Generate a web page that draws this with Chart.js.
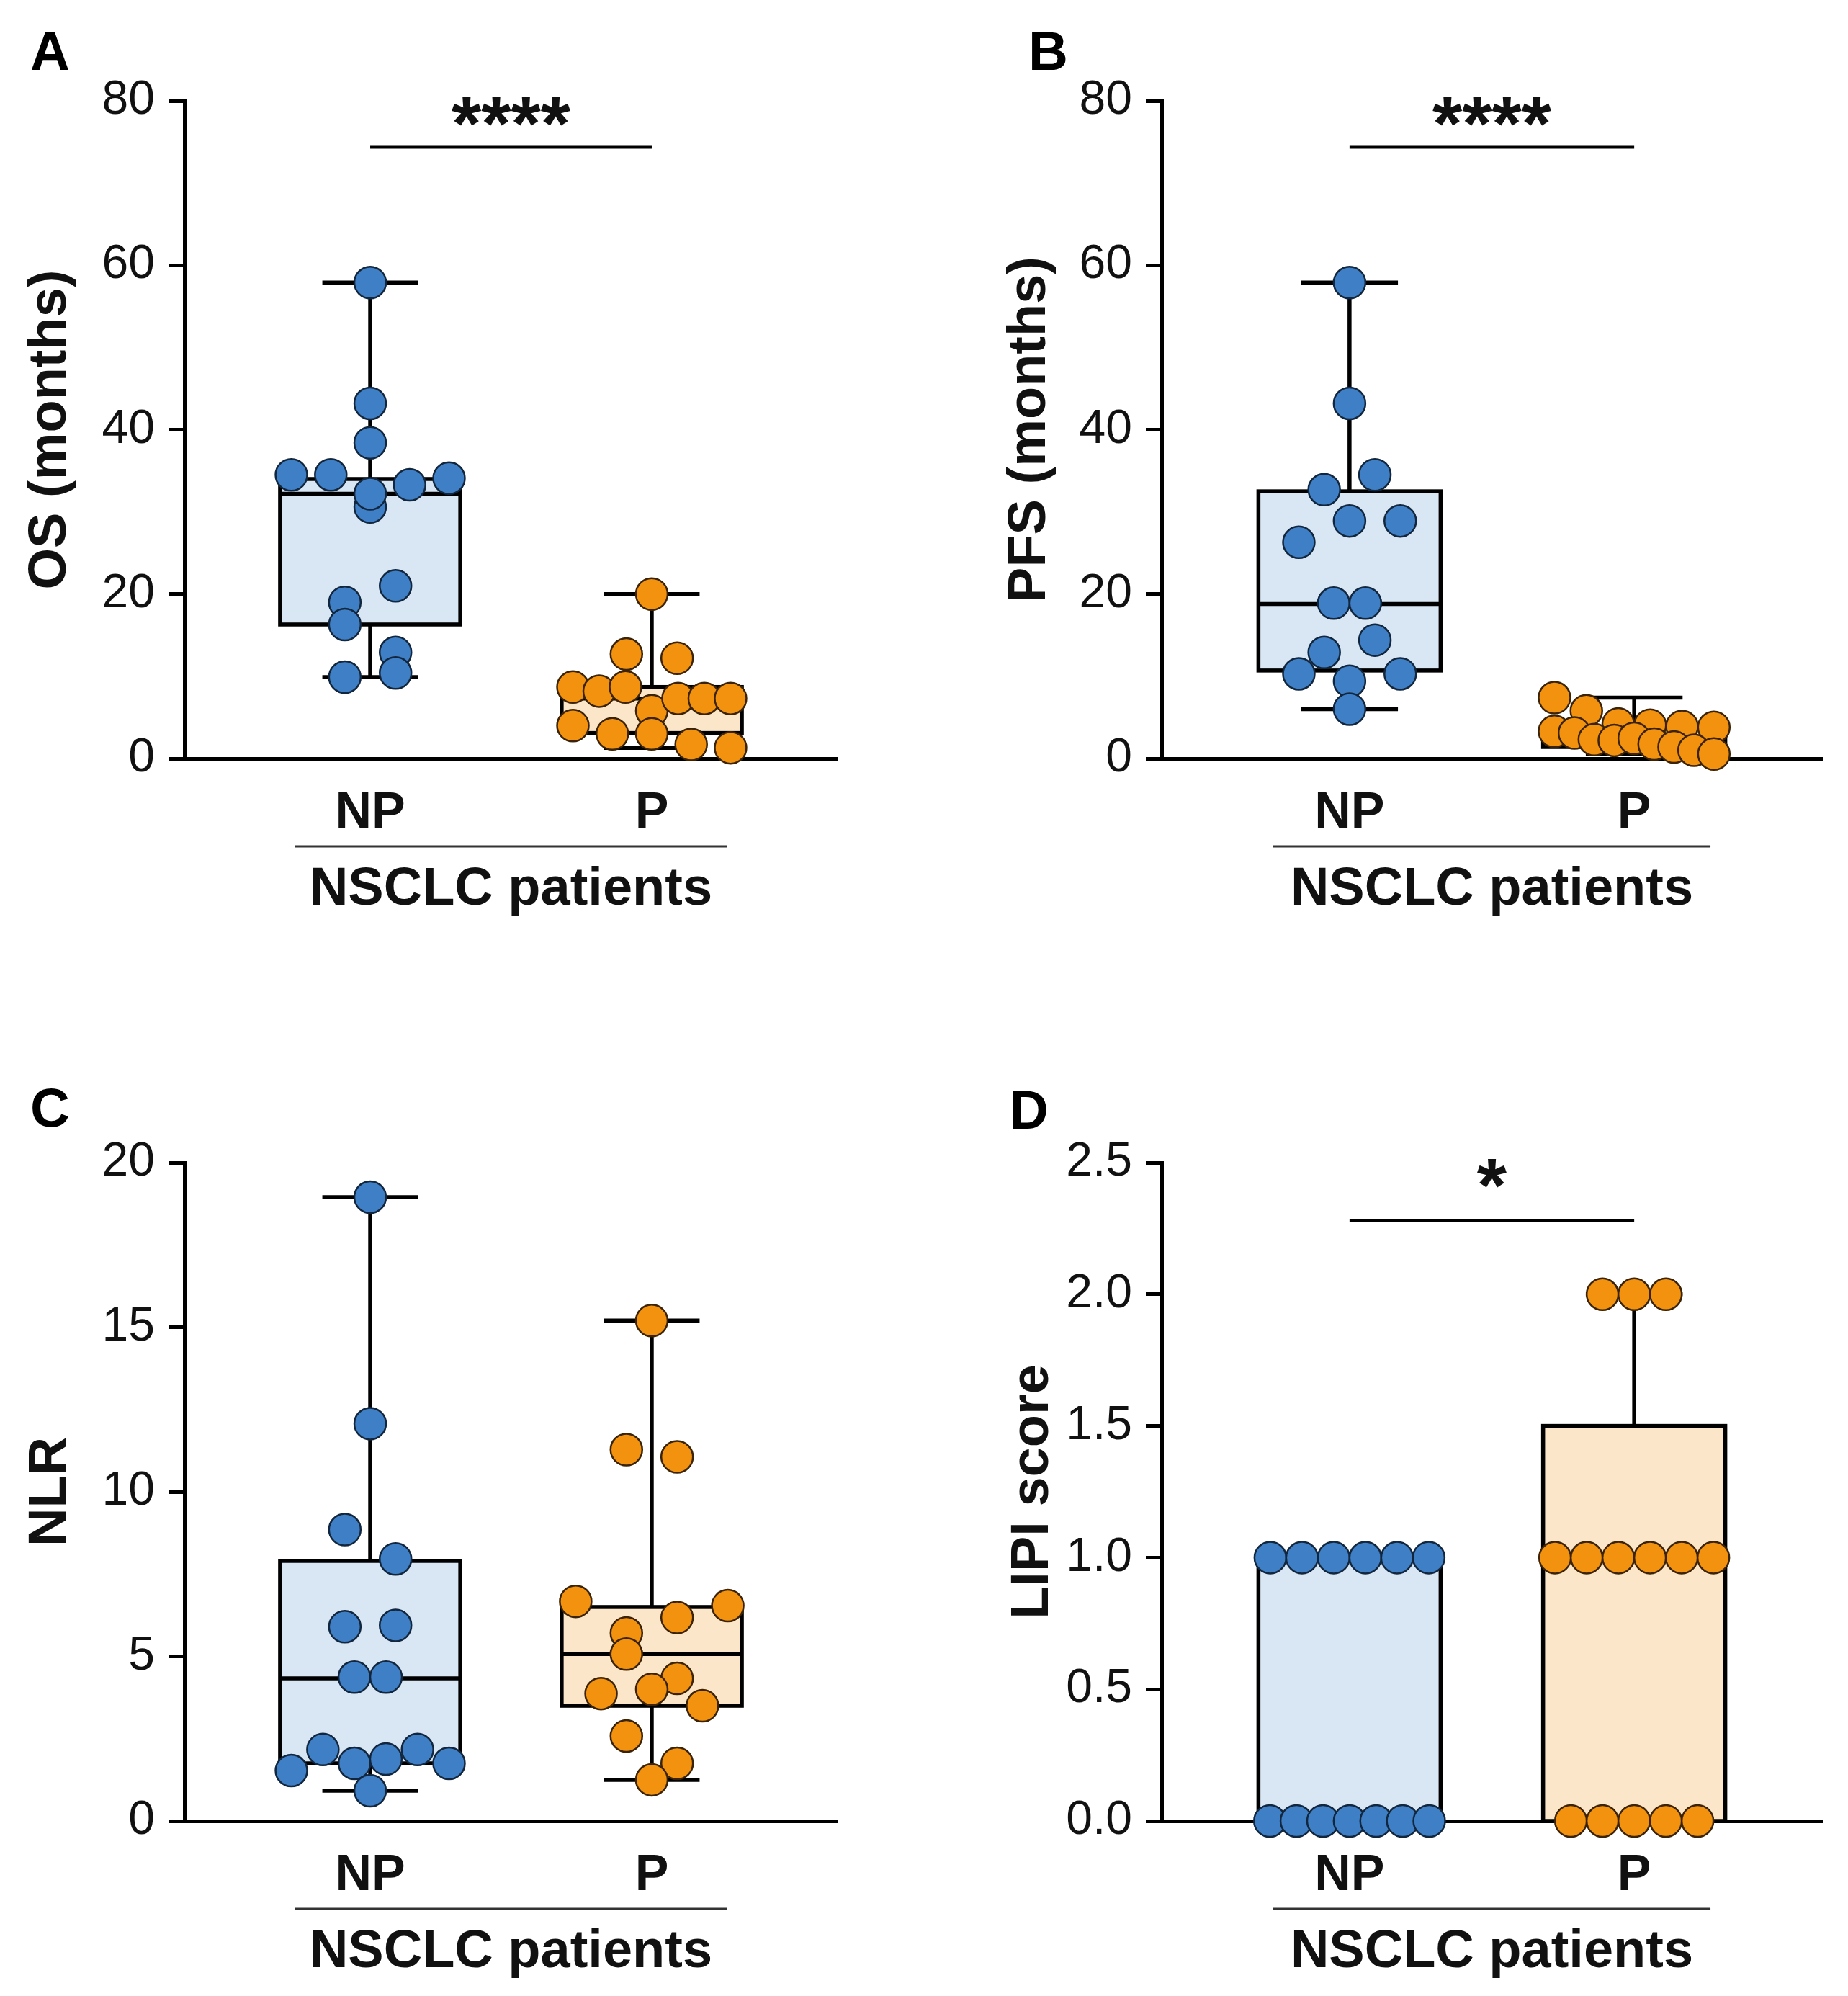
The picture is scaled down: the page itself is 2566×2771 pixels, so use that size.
<!DOCTYPE html>
<html>
<head>
<meta charset="utf-8">
<script src="https://cdn.jsdelivr.net/npm/chart.js@4.4.1/dist/chart.umd.min.js"></script>
<style>
  html, body { margin: 0; background: #fff; }
  #fig { position: relative; width: 2566px; height: 2771px; }
  .panel { position: absolute; }
</style>
</head>
<body>
<div id="fig">
  <div class="panel" style="left:0;top:0;width:1283px;height:1385px"><canvas id="A"></canvas></div>
  <div class="panel" style="left:1283px;top:0;width:1283px;height:1385px"><canvas id="B"></canvas></div>
  <div class="panel" style="left:0;top:1385px;width:1283px;height:1386px"><canvas id="C"></canvas></div>
  <div class="panel" style="left:1283px;top:1385px;width:1283px;height:1386px"><canvas id="D"></canvas></div>
</div>
<script>
'use strict';

// groups on the x axis
const groups = ['NP', 'P'];
const groupTitle = 'NSCLC patients';

// A: overall survival (months)
const osNP    = [57.9, 43.2, 38.4, 34.5, 34.5, 30.6, 32.2, 33.3, 34.1, 19.0, 21.0, 16.3, 12.9, 9.9, 10.4];
const osP     = [20.0, 12.7, 12.2, 8.7, 8.2, 8.7, 5.8, 7.3, 7.3, 7.3, 4.0, 3.0, 3.0, 1.7, 1.3];
// box stats: [min, q1, median, q3, max]
const osNPBox = [9.9, 16.3, 32.2, 34.0, 57.9];
const osPBox  = [1.3, 3.1, 7.3, 8.7, 20.0];

// B: progression-free survival (months)
const pfsNP    = [57.9, 43.2, 32.7, 34.5, 26.3, 28.9, 28.9, 18.9, 18.9, 12.9, 14.4, 10.3, 9.4, 10.3, 6.0];
const pfsP     = [7.4, 5.8, 4.2, 4.05, 3.9, 3.8, 3.3, 3.1, 2.3, 2.2, 2.45, 1.75, 1.4, 1.0, 0.55];
const pfsNPBox = [6.0, 10.7, 18.8, 32.5, 57.9];
const pfsPBox  = [0.55, 1.4, 2.6, 3.8, 7.4];

// C: NLR
const nlrNP    = [18.95, 12.07, 8.85, 7.96, 5.9, 5.94, 4.37, 4.37, 1.53, 2.17, 1.75, 1.88, 2.17, 1.75, 0.92];
const nlrP     = [15.2, 11.28, 11.06, 6.67, 5.71, 6.18, 6.54, 5.07, 4.33, 3.87, 4.0, 3.5, 2.58, 1.75, 1.25];
const nlrNPBox = [0.92, 1.75, 4.33, 7.9, 18.95];
const nlrPBox  = [1.25, 3.5, 5.07, 6.5, 15.2];

// D: LIPI score
const lipiNP    = [1, 1, 1, 1, 1, 1, 0, 0, 0, 0, 0, 0, 0];
const lipiP     = [2, 2, 2, 1, 1, 1, 1, 1, 1, 0, 0, 0, 0, 0];
const lipiNPBox = [0, 0, 0, 1, 1];
const lipiPBox  = [0, 0, 1, 1.5, 2];

// y axis ticks
const osTicks   = [0, 20, 40, 60, 80];
const nlrTicks  = [0, 5, 10, 15, 20];
const lipiTicks = [0, 0.5, 1.0, 1.5, 2.0, 2.5];

const FONT  = '"Liberation Sans", Arial, Helvetica, sans-serif';
const INK   = '#111';
const DOT_R = 22;
const STAR  = 106;
const colors = {
  NP: { dot: '#3e7fc5', edge: '#12263d', box: '#d9e6f4' },
  P:  { dot: '#f3920e', edge: '#3a2306', box: '#fce6ca' },
};

// box, whiskers, significance bar, group underline, panel letter
const boxPlugin = {
  id: 'boxes',
  beforeDatasetsDraw(chart, args, o) {
    const { ctx, scales: { x, y } } = chart;
    const seg = (x0, y0, x1, y1) => { ctx.beginPath(); ctx.moveTo(x0, y0); ctx.lineTo(x1, y1); ctx.stroke(); };
    ctx.save();
    ctx.strokeStyle = '#000';
    ctx.lineWidth = 5.5;
    o.boxes.forEach((stats, i) => {
      const [mn, q1, md, q3, mx] = stats;
      const c  = i + 1;
      const xc = x.getPixelForValue(c);
      const xl = x.getPixelForValue(c - 0.32), xr = x.getPixelForValue(c + 0.32);
      const cl = x.getPixelForValue(c - 0.17), cr = x.getPixelForValue(c + 0.17);
      if (mx > q3) { seg(xc, y.getPixelForValue(q3), xc, y.getPixelForValue(mx)); seg(cl, y.getPixelForValue(mx), cr, y.getPixelForValue(mx)); }
      if (mn < q1) { seg(xc, y.getPixelForValue(q1), xc, y.getPixelForValue(mn)); seg(cl, y.getPixelForValue(mn), cr, y.getPixelForValue(mn)); }
      const yt = y.getPixelForValue(q3), yb = y.getPixelForValue(q1);
      ctx.fillStyle = colors[groups[i]].box;
      ctx.fillRect(xl, yt, xr - xl, yb - yt);
      ctx.strokeRect(xl, yt, xr - xl, yb - yt);
      seg(xl, y.getPixelForValue(md), xr, y.getPixelForValue(md));
    });
    ctx.restore();
  },
  afterDraw(chart, args, o) {
    const { ctx, chartArea, scales: { x, y } } = chart;
    ctx.save();
    ctx.fillStyle = INK;
    ctx.strokeStyle = '#000';
    if (o.sig) {
      ctx.lineWidth = 5;
      const ys = y.getPixelForValue(o.sig.line);
      ctx.beginPath();
      ctx.moveTo(x.getPixelForValue(1), ys);
      ctx.lineTo(x.getPixelForValue(2), ys);
      ctx.stroke();
      ctx.font = 'bold ' + STAR + 'px ' + FONT;
      ctx.textAlign = 'center';
      ctx.textBaseline = 'alphabetic';
      ctx.fillText(o.sig.label, x.getPixelForValue(1.5), y.getPixelForValue(o.sig.text) + 0.47 * STAR);
    }
    // line above the group title
    ctx.lineWidth = 3;
    ctx.strokeStyle = '#333';
    const yl = chartArea.bottom + 122;
    ctx.beginPath();
    ctx.moveTo(x.getPixelForValue(1.5 - 0.768), yl);
    ctx.lineTo(x.getPixelForValue(1.5 + 0.768), yl);
    ctx.stroke();
    // panel letter
    ctx.font = 'bold 76px ' + FONT;
    ctx.textAlign = 'left';
    ctx.fillStyle = '#000';
    ctx.fillText(o.letter.text, o.letter.x, o.letter.y);
    ctx.restore();
  },
};

// rows of dots, centred on the group, GraphPad style
function swarm(values, center, chart) {
  const xs = chart.scales.x, ys = chart.scales.y;
  const unit = xs.getPixelForValue(2) - xs.getPixelForValue(1);
  const d = 2 * DOT_R, maxSpan = 0.56 * unit;
  const idx = values.map((v, i) => i).sort((a, b) => values[b] - values[a]);
  const rows = [];
  idx.forEach(i => {
    const row = rows[rows.length - 1];
    if (row && ys.getPixelForValue(values[i]) - ys.getPixelForValue(values[row[0]]) < d) row.push(i);
    else rows.push([i]);
  });
  const pts = [];
  rows.forEach(row => {
    row.sort((a, b) => a - b);
    const n = row.length;
    const tied = row.every(i => values[i] === values[row[0]]);
    const step = n > 1 ? Math.min(tied ? d : 1.6 * d, maxSpan / (n - 1)) : 0;
    row.forEach((i, k) => { pts[i] = { x: center + (k - (n - 1) / 2) * step / unit, y: values[i] }; });
  });
  return pts;
}

function makePanel(p) {
  const canvas = document.getElementById(p.id);
  const box = canvas.parentElement.getBoundingClientRect();
  const a = p.area;
  const datasets = p.values.map((vals, i) => ({
    data: vals.map(v => ({ x: i + 1, y: v })),
    pointRadius: DOT_R,
    pointBorderWidth: 2.5,
    pointBackgroundColor: colors[groups[i]].dot,
    pointBorderColor: colors[groups[i]].edge,
    showLine: false,
    clip: false,
  }));

  const chart = new Chart(canvas, {
    type: 'scatter',
    data: { datasets },
    plugins: [boxPlugin],
    options: {
      responsive: true,
      maintainAspectRatio: false,
      animation: false,
      events: [],
      layout: { padding: { left: 0, top: a.t, right: box.width - a.r, bottom: box.height - a.b - 230 } },
      plugins: {
        legend: { display: false },
        tooltip: { enabled: false },
        boxes: { boxes: p.boxes, sig: p.sig, letter: p.letter },
      },
      scales: {
        x: {
          type: 'linear',
          min: 0.34,
          max: 2.66,
          afterBuildTicks: s => { s.ticks = groups.map((g, i) => ({ value: i + 1 })); },
          afterFit: s => { s.height = 230; },
          grid: { display: false, drawTicks: false },
          border: { display: true, color: '#000', width: 5 },
          ticks: {
            autoSkip: false,
            maxRotation: 0,
            padding: 35,
            color: INK,
            font: { family: FONT, size: 70, weight: 'bold' },
            callback: v => groups[v - 1],
          },
          title: {
            display: true,
            text: groupTitle,
            color: INK,
            font: { family: FONT, size: 74, weight: 'bold' },
            padding: { top: 0, bottom: 3 },
          },
        },
        y: {
          min: p.ticks[0],
          max: p.ticks[p.ticks.length - 1],
          afterBuildTicks: s => { s.ticks = p.ticks.map(v => ({ value: v })); },
          afterFit: s => { s.width = a.l; },
          grid: { drawOnChartArea: false, drawTicks: true, tickLength: 22, lineWidth: 5, color: '#000' },
          border: { display: true, color: '#000', width: 5 },
          ticks: {
            autoSkip: false,
            padding: 19,
            color: INK,
            font: { family: FONT, size: 66 },
            callback: v => v.toFixed(p.decimals),
          },
          title: {
            display: true,
            text: p.title,
            color: INK,
            font: { family: FONT, size: 74, weight: 'bold' },
            padding: { top: p.titleX - 44.4, bottom: 0 },
          },
        },
      },
    },
  });

  p.values.forEach((vals, i) => { chart.data.datasets[i].data = swarm(vals, i + 1, chart); });
  chart.update('none');
  return chart;
}

makePanel({
  id: 'A', area: { l: 256, t: 140, r: 1163, b: 1053 },
  values: [osNP, osP], boxes: [osNPBox, osPBox], ticks: osTicks, decimals: 0,
  title: 'OS (months)', titleX: 71,
  sig: { line: 74.4, text: 78.4, label: '****' },
  letter: { text: 'A', x: 42, y: 97 },
});
makePanel({
  id: 'B', area: { l: 330, t: 140, r: 1247, b: 1053 },
  values: [pfsNP, pfsP], boxes: [pfsNPBox, pfsPBox], ticks: osTicks, decimals: 0,
  title: 'PFS (months)', titleX: 148,
  sig: { line: 74.4, text: 78.4, label: '****' },
  letter: { text: 'B', x: 145, y: 97 },
});
makePanel({
  id: 'C', area: { l: 256, t: 229, r: 1163, b: 1143 },
  values: [nlrNP, nlrP], boxes: [nlrNPBox, nlrPBox], ticks: nlrTicks, decimals: 0,
  title: 'NLR', titleX: 71,
  sig: null,
  letter: { text: 'C', x: 42, y: 179 },
});
makePanel({
  id: 'D', area: { l: 330, t: 229, r: 1247, b: 1143 },
  values: [lipiNP, lipiP], boxes: [lipiNPBox, lipiPBox], ticks: lipiTicks, decimals: 1,
  title: 'LIPI score', titleX: 152,
  sig: { line: 2.28, text: 2.45, label: '*' },
  letter: { text: 'D', x: 118, y: 182 },
});
</script>
</body>
</html>
